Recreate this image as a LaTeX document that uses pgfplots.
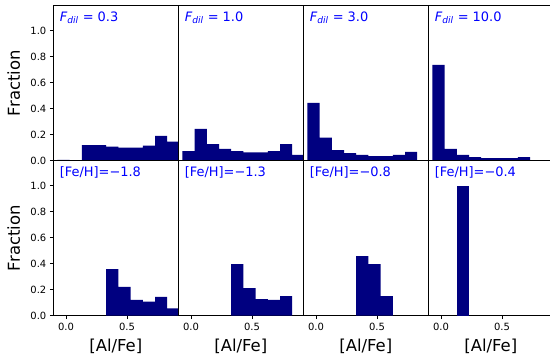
\documentclass[border=0pt]{standalone}
\usepackage{fontspec}
\setmainfont{DejaVu Sans}
\usepackage{pgfplots}
\pgfplotsset{compat=1.18}

\definecolor{navybar}{RGB}{0,0,128}
\definecolor{labelblue}{RGB}{0,0,255}

% Common look of the eight histogram panels
\pgfplotsset{
  histpanel/.style={
    scale only axis, width=125bp, height=155bp,
    anchor=south west,
    xmin=-0.104, xmax=0.921, ymin=0, ymax=1.192,
    axis line style={line width=0.8bp, black},
    every tick/.style={line width=0.8bp, black},
    tick align=outside, major tick length=3.5bp,
    xtick pos=left, ytick pos=left,
    xtick={0,0.5}, ytick={0,0.2,0.4,0.6,0.8,1.0},
    tick label style={font=\fontsize{10}{12}\selectfont},
    /pgf/number format/assume math mode=true,
    /pgf/number format/fixed, /pgf/number format/fixed zerofill,
    /pgf/number format/precision=1,
    label style={font=\fontsize{16.5}{19}\selectfont},
    ylabel style={at={(axis description cs:-0.317,0.5)}, anchor=center},
    xlabel style={at={(axis description cs:0.5,-0.195)}, anchor=center},
  },
  inner/.style={ytick=\empty},
  toprow/.style={xtick=\empty},
  bars/.style={ybar interval, fill=navybar, draw=none},
}

\newcommand{\paneltag}[1]{%
  \node[anchor=base west, inner sep=0pt, text=labelblue,
        font=\fontsize{13}{15}\selectfont] at (rel axis cs:0.05,0.9) {#1};}

\begin{document}
\begin{tikzpicture}[x=1bp, y=1bp]

% ---------- top row: dilution factor ----------
\begin{axis}[histpanel, toprow, at={(53.3bp,200.3bp)}, ylabel={Fraction}]
\addplot[bars] coordinates {(-0.07,0.006) (0.03,0) (0.13,0.12) (0.23,0.12)
  (0.33,0.108) (0.43,0.10) (0.53,0.10) (0.63,0.115) (0.73,0.19) (0.83,0.146) (0.93,0)};
\paneltag{\textit{F}\textsubscript{\itshape dil} = 0.3}
\end{axis}

\begin{axis}[histpanel, toprow, inner, at={(178.3bp,200.3bp)}]
\addplot[bars] coordinates {(-0.07,0.074) (0.03,0.244) (0.13,0.128) (0.23,0.09)
  (0.33,0.074) (0.43,0.064) (0.53,0.064) (0.63,0.074) (0.73,0.128) (0.83,0.044) (0.93,0)};
\paneltag{\textit{F}\textsubscript{\itshape dil} = 1.0}
\end{axis}

\begin{axis}[histpanel, toprow, inner, at={(303.3bp,200.3bp)}]
\addplot[bars] coordinates {(-0.07,0.444) (0.03,0.177) (0.13,0.082) (0.23,0.059)
  (0.33,0.044) (0.43,0.036) (0.53,0.036) (0.63,0.044) (0.73,0.067) (0.83,0) (0.93,0)};
\paneltag{\textit{F}\textsubscript{\itshape dil} = 3.0}
\end{axis}

\begin{axis}[histpanel, toprow, inner, at={(428.3bp,200.3bp)}]
\addplot[bars] coordinates {(-0.07,0.736) (0.03,0.09) (0.13,0.044) (0.23,0.028)
  (0.33,0.02) (0.43,0.02) (0.53,0.02) (0.63,0.028) (0.73,0) (0.83,0) (0.93,0)};
\paneltag{\textit{F}\textsubscript{\itshape dil} = 10.0}
\end{axis}

% ---------- bottom row: metallicity ----------
\begin{axis}[histpanel, at={(53.3bp,45.3bp)}, ylabel={Fraction}, xlabel={[Al/Fe]}]
\addplot[bars] coordinates {(0.33,0.359) (0.43,0.221) (0.53,0.121) (0.63,0.108)
  (0.73,0.144) (0.83,0.056) (0.93,0)};
\paneltag{[Fe/H]=−1.8}
\end{axis}

\begin{axis}[histpanel, inner, at={(178.3bp,45.3bp)}, xlabel={[Al/Fe]}]
\addplot[bars] coordinates {(0.33,0.397) (0.43,0.213) (0.53,0.128) (0.63,0.121)
  (0.73,0.151) (0.83,0)};
\paneltag{[Fe/H]=−1.3}
\end{axis}

\begin{axis}[histpanel, inner, at={(303.3bp,45.3bp)}, xlabel={[Al/Fe]}]
\addplot[bars] coordinates {(0.33,0.459) (0.43,0.397) (0.53,0.151) (0.63,0)};
\paneltag{[Fe/H]=−0.8}
\end{axis}

\begin{axis}[histpanel, inner, at={(428.3bp,45.3bp)}, xlabel={[Al/Fe]}]
\addplot[bars] coordinates {(0.13,1.0) (0.23,0)};
\paneltag{[Fe/H]=−0.4}
\end{axis}

\pgfresetboundingbox
\useasboundingbox (0,0) rectangle (550,361);
\end{tikzpicture}
\end{document}
